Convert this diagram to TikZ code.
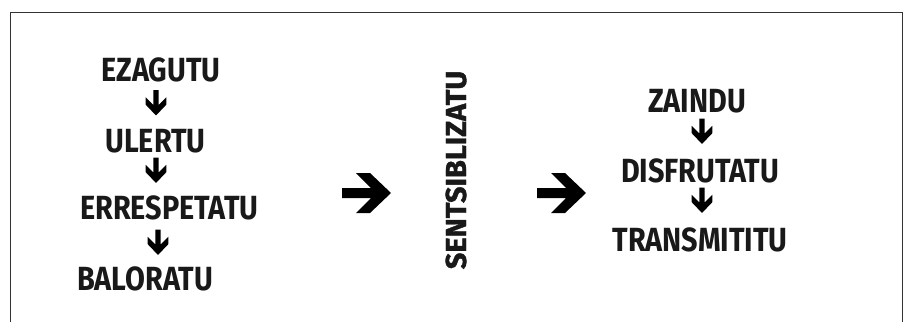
\documentclass[tikz,border=0pt]{standalone}
\usepackage{fontspec}
\newfontfamily\wordfont[FakeStretch=0.86]{Fira Sans Bold}
\newfontfamily\vertfont[FakeBold=1.2]{Fira Sans Bold}
\begin{document}
\begin{tikzpicture}[x=1pt,y=-1pt,
  word/.style={font=\wordfont\fontsize{33.5}{33}\selectfont, inner sep=0pt, anchor=base, text=black!90},
  vword/.style={font=\vertfont\fontsize{29}{29}\selectfont, inner sep=0pt, anchor=center, rotate=90, text=black!90},
  fatarrow/.pic={\fill[black] (0,-5) -- (29,-5) -- (14,-20) -- (28,-20) -- (49,0) -- (28,20) -- (14,20) -- (29,5) -- (0,5) -- cycle;},
  frameline/.style={draw=black!80, line width=1pt}
]
\useasboundingbox (0,0) rectangle (905,322);
\fill[white] (0,0) rectangle (905,322);
\draw[frameline] (10.5,322) -- (10.5,12.5) -- (902,12.5) -- (902,322);

% left column
\node[word] (ez) at (161,81) {EZAGUTU};
\node[word] (ul) at (155.5,152) {ULERTU};
\node[word] (er) at (169.5,219) {ERRESPETATU};
\node[word] (ba) at (145,290) {BALORATU};
\pic[rotate=-90, scale=0.52] at (156,90) {fatarrow};
\pic[rotate=-90, scale=0.52] at (156,157.5) {fatarrow};
\pic[rotate=-90, scale=0.52] at (158,229.5) {fatarrow};

% middle
\pic at (342,193) {fatarrow};
\node[vword] (se) at (456,170) {SENTSIBLIZATU};
\pic at (537,193) {fatarrow};

% right column
\node[word] (za) at (697,112) {ZAINDU};
\node[word] (di) at (700,182) {DISFRUTATU};
\node[word] (tr) at (700,251) {TRANSMITITU};
\pic[rotate=-90, scale=0.52] at (702,118.5) {fatarrow};
\pic[rotate=-90, scale=0.52] at (702,187.5) {fatarrow};
\end{tikzpicture}
\end{document}
